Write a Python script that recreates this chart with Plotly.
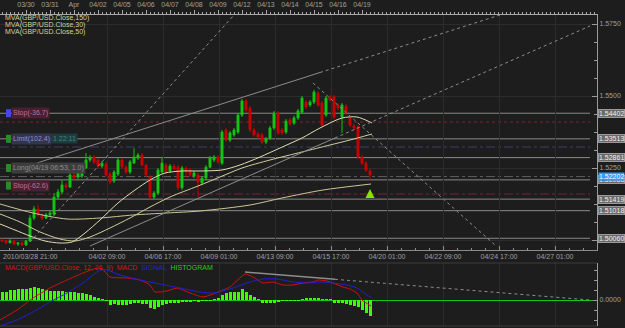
import plotly.graph_objects as go

# ---------------- data ----------------
# 4H candles, x = trading hours since 2010-03-29 00:00
hours = list(range(0, 372, 4))
opens = [1.5000,1.4997,1.4990,1.4997,1.4986,1.4990,1.4983,1.4997,1.5076,1.5108,
1.5087,1.5076,1.5087,1.5090,1.5149,1.5167,1.5191,1.5184,1.5226,1.5219,
1.5222,1.5250,1.5278,1.5288,1.5278,1.5257,1.5264,1.5229,1.5205,1.5229,
1.5278,1.5253,1.5236,1.5267,1.5285,1.5295,1.5260,1.5219,1.5149,1.5163,
1.5236,1.5260,1.5240,1.5257,1.5253,1.5181,1.5250,1.5243,1.5222,1.5226,
1.5198,1.5215,1.5253,1.5278,1.5288,1.5267,1.5382,1.5347,1.5365,1.5375,
1.5434,1.5483,1.5458,1.5382,1.5368,1.5365,1.5340,1.5354,1.5389,1.5441,
1.5382,1.5375,1.5417,1.5406,1.5424,1.5444,1.5479,1.5469,1.5479,1.5510,
1.5476,1.5434,1.5497,1.5497,1.5469,1.5427,1.5465,1.5424,1.5396,1.5392,
1.5288,1.5267,1.5240]
closes = [1.4997,1.4990,1.4997,1.4986,1.4990,1.4983,1.4997,1.5076,1.5108,1.5087,
1.5076,1.5087,1.5094,1.5149,1.5167,1.5191,1.5184,1.5226,1.5215,1.5233,
1.5250,1.5278,1.5285,1.5271,1.5257,1.5267,1.5226,1.5201,1.5236,1.5278,
1.5253,1.5236,1.5271,1.5288,1.5295,1.5260,1.5226,1.5149,1.5163,1.5243,
1.5267,1.5236,1.5257,1.5247,1.5181,1.5250,1.5236,1.5226,1.5233,1.5201,
1.5215,1.5253,1.5285,1.5288,1.5271,1.5375,1.5347,1.5372,1.5382,1.5434,
1.5483,1.5451,1.5382,1.5365,1.5358,1.5340,1.5351,1.5389,1.5441,1.5372,
1.5372,1.5413,1.5403,1.5424,1.5448,1.5493,1.5462,1.5479,1.5514,1.5469,
1.5399,1.5493,1.5486,1.5427,1.5458,1.5469,1.5441,1.5399,1.5389,1.5288,
1.5267,1.5243,1.5226]
highs = [1.5007,1.5000,1.5003,1.5000,1.4993,1.4997,1.5000,1.5087,1.5118,1.5122,
1.5094,1.5094,1.5101,1.5163,1.5177,1.5208,1.5198,1.5236,1.5233,1.5240,
1.5257,1.5302,1.5295,1.5295,1.5285,1.5274,1.5271,1.5236,1.5243,1.5285,
1.5285,1.5260,1.5278,1.5319,1.5302,1.5302,1.5264,1.5226,1.5170,1.5250,
1.5288,1.5267,1.5264,1.5264,1.5260,1.5257,1.5257,1.5250,1.5240,1.5233,
1.5222,1.5260,1.5292,1.5295,1.5295,1.5382,1.5389,1.5378,1.5389,1.5441,
1.5490,1.5490,1.5465,1.5389,1.5375,1.5372,1.5358,1.5396,1.5448,1.5448,
1.5389,1.5420,1.5424,1.5431,1.5455,1.5500,1.5486,1.5486,1.5521,1.5517,
1.5483,1.5500,1.5503,1.5503,1.5476,1.5476,1.5472,1.5431,1.5403,1.5399,
1.5295,1.5274,1.5247]
lows = [1.4993,1.4986,1.4990,1.4983,1.4979,1.4979,1.4979,1.4993,1.5069,1.5080,
1.5069,1.5073,1.5080,1.5083,1.5142,1.5160,1.5174,1.5181,1.5208,1.5212,
1.5215,1.5247,1.5271,1.5264,1.5250,1.5250,1.5219,1.5194,1.5198,1.5222,
1.5247,1.5229,1.5229,1.5264,1.5278,1.5257,1.5219,1.5142,1.5142,1.5156,
1.5229,1.5229,1.5233,1.5240,1.5174,1.5174,1.5215,1.5219,1.5215,1.5149,
1.5191,1.5208,1.5250,1.5271,1.5264,1.5260,1.5340,1.5340,1.5358,1.5368,
1.5427,1.5444,1.5375,1.5358,1.5351,1.5333,1.5333,1.5347,1.5382,1.5365,
1.5365,1.5368,1.5396,1.5399,1.5417,1.5438,1.5455,1.5462,1.5472,1.5462,
1.5392,1.5427,1.5479,1.5420,1.5451,1.5372,1.5434,1.5392,1.5382,1.5281,
1.5260,1.5236,1.5208]

# moving averages (x in hours, value in price)
ma30_x = [-2,13,28,43,58,70,83,98,116,133,148,163,180,198,220,238,258,278,300,318,340,355,370]
ma30_y = [1.50556,1.50347,1.50139,1.49965,1.49896,1.49931,1.50243,1.50694,1.51285,1.51736,
          1.52083,1.52326,1.52396,1.52396,1.52431,1.52604,1.52882,1.53194,1.53542,1.53889,
          1.54236,1.54271,1.54063]
ma50_x = [-2,18,38,58,73,88,108,128,148,168,196,218,240,268,300,328,348,370]
ma50_y = [1.50903,1.50625,1.50278,1.50035,1.49965,1.50104,1.50417,1.50764,1.51146,1.51493,
          1.51875,1.52188,1.52500,1.52778,1.53056,1.53299,1.53472,1.53681]
ma150_x = [-2,31,65,98,131,165,198,248,280,321,369]
ma150_y = [1.51250,1.50938,1.50729,1.50764,1.50868,1.50938,1.51007,1.51215,1.51458,1.51736,1.51944]

# MACD (12,26,9)
macd_x = [-2,15,31,48,65,81,95,100,108,125,138,148,153,165,175,188,201,211,228,243,251,261,271,281,291,301,311,316,325,331,341,348,355,360,369]
macd_v = [-0.0020,-0.0010,0.0002,0.0012,0.0020,0.0027,0.0032,0.0031,0.0023,0.0022,0.0020,0.0015,0.0008,0.0009,0.0012,0.0007,0.0003,0.0006,0.0013,0.0026,0.0023,0.0017,0.0018,0.0015,0.0015,0.0017,0.0018,0.0020,0.0019,0.0017,0.0013,0.0011,0.0007,0.0000,-0.0006]
signal_x = [-2,15,31,48,65,81,98,105,118,138,158,178,198,211,231,248,261,275,291,305,318,331,345,355,365,370]
signal_v = [-0.0026,-0.0020,-0.0012,-0.0002,0.0007,0.0017,0.0030,0.0030,0.0025,0.0020,0.0016,0.0012,0.0008,0.0007,0.0012,0.0018,0.0021,0.0021,0.0018,0.0017,0.0018,0.0017,0.0015,0.0012,0.0005,0.0002]
hist_v = [8,8.5,10,10.5,10.7,10.7,11,12.3,12.7,11.7,10.7,10,9,9,9,9,8.3,8.3,8.3,7.3,
          6.7,6,5,3.3,1.7,0.8,-1,-5,-4,-5,-5,-5,-4,-3.3,-3.3,-3.7,-4,-8.3,-9.3,-6.7,
          -5,-4,-3.3,-2.7,-2.7,-1.7,-1.7,-1.3,-1,-1.7,-1,-1,-0.7,0.3,1.7,5,6.7,7.7,8,8.3,
          10.7,8.3,5,3.3,0.3,-2.7,-3,-3.3,-2.7,-1.7,-1,-1,-1,-1,-0.3,1,1.3,1.7,2.3,2.3,
          1,0.5,0.3,-2.7,-2.7,-3.3,-4,-5,-6,-7.3,-10,-13.3,-16]
hist_scale = 0.0001

# axis labels
top_tick_hours = [24,48,72,96,120,144,168,192,216,240,264,288,312,336,360]
top_tick_text = ["03/30","03/31","Apr","04/02","04/05","04/06","04/07","04/08","04/09","04/12","04/13","04/14","04/15","04/16","04/19"]
marker_hours = [0,24,48,72,96,116,120,144,168,192,216,236,240,264,288,312,336,356,360]
bottom_tick_hours = [105,161,217,273,329,385,441,497,553]
bottom_tick_text = ["04/02 09:00","04/06 17:00","04/09 01:00","04/13 09:00","04/15 17:00","04/20 01:00","04/22 09:00","04/24 17:00","04/27 01:00"]
first_label = "2010/03/28 21:00"

level_prices = [1.54402,1.53513,1.52861,1.52088,1.51419,1.51018,1.50060]
level_labels = ["1.54402","1.53513","1.52861","1.52088","1.51419","1.51018","1.50060"]
current_price = 1.52202
order_levels = [1.54097,1.53229,1.52202,1.51597]
order_colors = ["#7a2434","#3c3c6c","#5e5e5e","#74243a"]
order_dash = ["dot","dashdot","dashdot","dashdot"]

# ---------------- layout constants ----------------
W, H = 625, 328
BG = "#1d1d1d"
GRID = "#2c2c2c"
FONT = "Liberation Sans"
XR = [-2, 595]
Y1R = [1.496528, 1.578125]
Y2R = [-0.0026, 0.0037]
xdom = [0, 597 / W]

def pdom(top_px, bot_px):
    return [1 - bot_px / H, 1 - top_px / H]

fig = go.Figure()

fig.add_trace(go.Candlestick(
    x=hours, open=opens, high=highs, low=lows, close=closes,
    increasing=dict(line=dict(color="#10c010", width=1), fillcolor="#14d214"),
    decreasing=dict(line=dict(color="#c80000", width=1), fillcolor="#d00000"),
    whiskerwidth=0, xaxis="x", yaxis="y", hoverinfo="skip"))

for xs, ys, col in [(ma150_x, ma150_y, "#c8c896"), (ma30_x, ma30_y, "#dedeb0"), (ma50_x, ma50_y, "#cfcf9c")]:
    fig.add_trace(go.Scatter(x=xs, y=ys, mode="lines", line=dict(color=col, width=1, shape="spline", smoothing=0.8),
                             xaxis="x", yaxis="y", hoverinfo="skip"))

# green arrow (buy signal)
fig.add_trace(go.Scatter(x=[hours[-1]], y=[1.51771], mode="markers",
                         marker=dict(symbol="arrow-up", size=9, color="#86e400", line=dict(width=0)),
                         xaxis="x", yaxis="y", hoverinfo="skip"))

# top day markers
fig.add_trace(go.Scatter(x=marker_hours, y=[1.57934] * len(marker_hours), mode="markers",
                         marker=dict(symbol="triangle-down", size=5, color="#e0a000", line=dict(width=0)),
                         xaxis="x3", yaxis="y", cliponaxis=False, hoverinfo="skip"))

# MACD panel
fig.add_trace(go.Bar(x=hours, y=[v * hist_scale for v in hist_v], width=3,
                     marker=dict(color="#3cff00", line=dict(width=0)), xaxis="x2", yaxis="y2", hoverinfo="skip"))
fig.add_trace(go.Scatter(x=macd_x, y=macd_v, mode="lines", line=dict(color="#d01010", width=1, shape="spline", smoothing=0.5),
                         xaxis="x2", yaxis="y2", hoverinfo="skip"))
fig.add_trace(go.Scatter(x=signal_x, y=signal_v, mode="lines", line=dict(color="#2020d8", width=1, shape="spline", smoothing=0.5),
                         xaxis="x2", yaxis="y2", hoverinfo="skip"))

shapes = []
# horizontal level lines
for p in level_prices:
    shapes.append(dict(type="line", xref="x", yref="y", x0=-2, x1=588, y0=p, y1=p,
                       line=dict(color="#8a8a8a", width=1), layer="below"))
for p, c, d in zip(order_levels, order_colors, order_dash):
    shapes.append(dict(type="line", xref="x", yref="y", x0=-2, x1=588, y0=p, y1=p,
                       line=dict(color=c, width=1, dash=d), layer="below"))
# trend lines
tl = "#8c8c8c"
shapes += [
    dict(type="line", xref="x", yref="y", x0=28, y0=1.49931, x1=232, y1=1.578125, line=dict(color=tl, width=1, dash="dot")),
    dict(type="line", xref="x", yref="y", x0=35, y0=1.52674, x1=318, y1=1.55816, line=dict(color=tl, width=1)),
    dict(type="line", xref="x", yref="y", x0=318, y0=1.55816, x1=498, y1=1.578125, line=dict(color=tl, width=1, dash="dot")),
    dict(type="line", xref="x", yref="y", x0=88, y0=1.49792, x1=333, y1=1.53542, line=dict(color=tl, width=1)),
    dict(type="line", xref="x", yref="y", x0=333, y0=1.53542, x1=588, y1=1.57431, line=dict(color=tl, width=1, dash="dot")),
    dict(type="line", xref="x", yref="y", x0=311, y0=1.55451, x1=493, y1=1.49826, line=dict(color=tl, width=1, dash="dot")),
    dict(type="line", xref="x2", yref="y2", x0=243, y0=0.0028, x1=333, y1=0.00207, line=dict(color="#8c8c8c", width=1.5)),
    dict(type="line", xref="x2", yref="y2", x0=333, y0=0.00207, x1=588, y1=0.0, line=dict(color="#8c8c8c", width=1, dash="dot")),
]
# panel borders
shapes += [
    dict(type="line", xref="paper", yref="paper", x0=0, x1=xdom[1], y0=1 - 263 / H, y1=1 - 263 / H, line=dict(color="#3c3c3c", width=1)),
    dict(type="line", xref="paper", yref="paper", x0=0, x1=xdom[1], y0=1 - 326 / H, y1=1 - 326 / H, line=dict(color="#3c3c3c", width=1)),
]
# order label squares
sq = [(1.54402, "#4646e0"), (1.53513, "#2a8a2a"), (1.52500, "#2a8a2a"), (1.51890, "#2a8a2a")]
for p, c in sq:
    shapes.append(dict(type="rect", xref="x", yref="y", x0=4, x1=9, y0=p - 0.0014, y1=p + 0.0014,
                       fillcolor=c, line=dict(width=0)))

ann = []
small = dict(family=FONT, size=7, color="#a0a0a0")
# MVA legend
for i, (t, c) in enumerate([("MVA(GBP/USD.Close,150)", "#d2d2a0"), ("MVA(GBP/USD.Close,30)", "#d2d2a0"), ("MVA(GBP/USD.Close,50)", "#d2d2a0")]):
    ann.append(dict(text=t, xref="paper", yref="paper", x=3 / W, y=1 - (18 + 7 * i) / H, xanchor="left", yanchor="middle",
                    showarrow=False, font=dict(family=FONT, size=7, color=c)))
# first bottom label
ann.append(dict(text=first_label, xref="paper", yref="paper", x=1 / W, y=1 - 256 / H, xanchor="left", yanchor="middle",
                showarrow=False, font=small))
# MACD legend
ann.append(dict(text="<span style='color:#d01818'>MACD(GBP/USD.Close, 12, 26, 9)  MACD</span>  <span style='color:#2424d0'>SIGNAL</span>  <span style='color:#20d020'>HISTOGRAM</span>",
                xref="paper", yref="paper", x=3 / W, y=1 - 268 / H, xanchor="left", yanchor="middle", showarrow=False,
                font=dict(family=FONT, size=7, color="#d01818")))
# order labels (left)
def olabel(text, x, p, bg, fc):
    ann.append(dict(text=text, xref="x", yref="y", x=x, y=p, xanchor="left", yanchor="middle", showarrow=False,
                    bgcolor=bg, borderpad=1, font=dict(family=FONT, size=7, color=fc)))
olabel("Stop(-36.7)", 9, 1.54402, "#4a1f32", "#c0708e")
olabel("Limit(102.4)", 9, 1.53513, "#34344e", "#9090c8")
olabel("1 22:11", 49, 1.53513, "#1d3d3d", "#3f8585")
olabel("Long(04/19 06:53, 1.0)", 9, 1.52500, "#3d3d3d", "#8e8e8e")
olabel("Stop(-62.6)", 9, 1.51890, "#4a1f32", "#c0708e")
# right price labels
for p, t in zip(level_prices, level_labels):
    ann.append(dict(text=t, xref="paper", yref="y", x=598 / W, y=p, xanchor="left", yanchor="middle", showarrow=False,
                    bgcolor="#6a6a6a", bordercolor="#9a9a9a", borderwidth=1, borderpad=0,
                    font=dict(family=FONT, size=7, color="#f0f0f0")))
ann.append(dict(text=f"{current_price:.5f}", xref="paper", yref="y", x=598 / W, y=current_price, xanchor="left", yanchor="middle",
                showarrow=False, bgcolor="#2f9cff", borderpad=0, font=dict(family=FONT, size=7, color="#ffffff")))

axfont = dict(family=FONT, size=7, color="#a0a0a0")
fig.update_layout(
    width=W, height=H, margin=dict(l=0, r=0, t=0, b=0),
    paper_bgcolor=BG, plot_bgcolor=BG, showlegend=False, bargap=0,
    xaxis=dict(domain=xdom, anchor="y", range=XR, showgrid=True, gridcolor=GRID,
               tickvals=bottom_tick_hours, ticktext=bottom_tick_text, tickfont=axfont,
               ticks="inside", ticklen=4, tickcolor="#909090", showline=True, linecolor="#8a8a8a",
               minor=dict(tick0=7, dtick=14, ticks="inside", ticklen=2, tickcolor="#909090", showgrid=False),
               rangeslider=dict(visible=False), zeroline=False, fixedrange=True),
    xaxis3=dict(domain=xdom, anchor="y", overlaying="x", side="top", range=XR, showgrid=False,
                tickvals=top_tick_hours, ticktext=top_tick_text, tickfont=axfont,
                ticks="outside", ticklen=4, tickcolor="#a8a8a8", showline=True, linecolor="#a8a8a8",
                minor=dict(tick0=0, dtick=4, ticks="outside", ticklen=2, tickcolor="#a8a8a8"), zeroline=False),
    xaxis2=dict(domain=xdom, anchor="y2", range=XR, showgrid=True, gridcolor=GRID,
                tickvals=bottom_tick_hours, showticklabels=False, ticks="", zeroline=False),
    yaxis=dict(domain=pdom(15, 250), range=Y1R, side="right", anchor="x",
               tickvals=[1.5000, 1.5250, 1.5500, 1.5750], ticktext=["1.5000", "1.5250", "1.5500", "1.5750"],
               tickfont=axfont, showgrid=True, gridcolor=GRID, ticks="inside", ticklen=5, tickcolor="#9a9a9a",
               showline=True, linecolor="#9a9a9a", zeroline=False,
               minor=dict(tick0=1.5, dtick=0.00625, ticks="inside", ticklen=3, tickcolor="#9a9a9a", showgrid=False)),
    yaxis2=dict(domain=pdom(263, 326), range=Y2R, side="right", anchor="x2",
                tickvals=[0], ticktext=["0.0000"], tickfont=axfont, showgrid=False,
                ticks="inside", ticklen=4, tickcolor="#9a9a9a", showline=True, linecolor="#9a9a9a",
                zeroline=True, zerolinecolor="#10c810", zerolinewidth=1,
                minor=dict(tick0=0, dtick=0.001, ticks="inside", ticklen=3, tickcolor="#9a9a9a")),
    shapes=shapes, annotations=ann,
)

fig.write_html("out.html")
